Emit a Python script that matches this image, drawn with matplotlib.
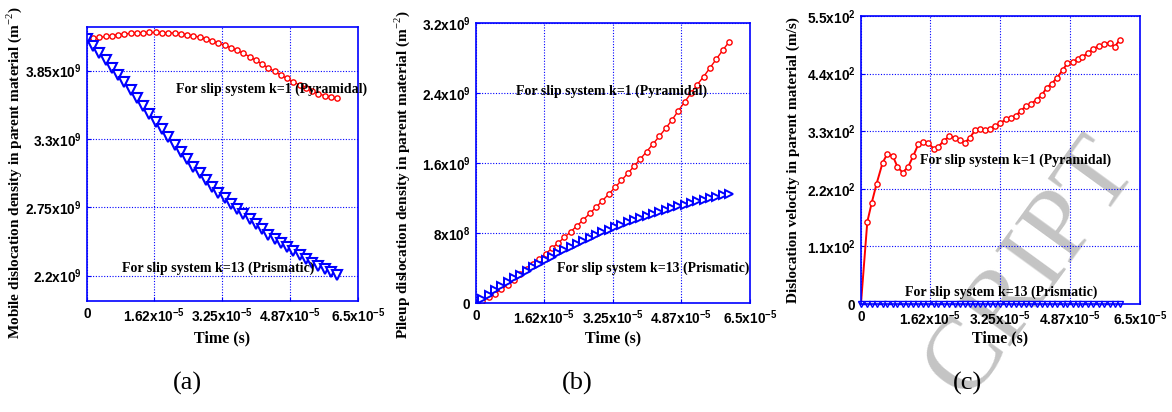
import matplotlib
matplotlib.use('Agg')
import matplotlib.pyplot as plt

plt.rcParams['font.family'] = 'Liberation Serif'
plt.rcParams['mathtext.fontset'] = 'custom'
plt.rcParams['mathtext.rm'] = 'Liberation Serif'
plt.rcParams['mathtext.bf'] = 'Liberation Sans:bold'

# time samples (s) used by panels (a) and (b)
time_ab = [0.00, 0.15, 0.30, 0.45, 0.60, 0.75, 0.90, 1.05, 1.20, 1.35, 1.50,
           1.65, 1.80, 1.95, 2.10, 2.25, 2.40, 2.55, 2.70, 2.85, 3.00, 3.15,
           3.30, 3.45, 3.60, 3.75, 3.90, 4.05, 4.20, 4.35, 4.50, 4.65, 4.80,
           4.95, 5.10, 5.25, 5.40, 5.55, 5.70, 5.85, 6.00]
time_ab = [t * 1e-5 for t in time_ab]

# (a) mobile dislocation density, 1e9 m^-2
mobile_pyr = [4.100, 4.108, 4.116, 4.124, 4.131, 4.138, 4.144, 4.149, 4.152, 4.155, 4.156,
              4.156, 4.155, 4.153, 4.151, 4.146, 4.138, 4.129, 4.119, 4.105, 4.090, 4.072,
              4.055, 4.034, 4.012, 3.988, 3.962, 3.932, 3.902, 3.872, 3.843, 3.813, 3.786,
              3.760, 3.733, 3.707, 3.684, 3.664, 3.648, 3.636, 3.628]
mobile_prism = [4.100, 4.044, 3.988, 3.931, 3.873, 3.814, 3.754, 3.693, 3.631, 3.568, 3.504,
                3.440, 3.377, 3.315, 3.254, 3.194, 3.135, 3.078, 3.022, 2.968, 2.915, 2.864,
                2.822, 2.780, 2.738, 2.696, 2.654, 2.613, 2.572, 2.531, 2.496, 2.463, 2.431,
                2.399, 2.367, 2.336, 2.305, 2.278, 2.252, 2.228, 2.205]

# (b) pileup dislocation density, 1e9 m^-2
pileup_pyr = [0.000, 0.030, 0.070, 0.110, 0.160, 0.210, 0.270, 0.330, 0.390, 0.449, 0.507,
              0.566, 0.627, 0.690, 0.754, 0.820, 0.887, 0.956, 1.027, 1.099, 1.173, 1.248,
              1.325, 1.404, 1.484, 1.566, 1.650, 1.735, 1.821, 1.909, 1.999, 2.095, 2.200,
              2.300, 2.400, 2.500, 2.590, 2.690, 2.790, 2.890, 2.985]
pileup_prism = [0.000, 0.050, 0.099, 0.147, 0.194, 0.240, 0.285, 0.329, 0.372, 0.414, 0.455,
                0.495, 0.534, 0.572, 0.609, 0.645, 0.680, 0.714, 0.747, 0.779, 0.810, 0.840,
                0.869, 0.897, 0.924, 0.950, 0.975, 0.999, 1.022, 1.044, 1.066, 1.087, 1.108,
                1.128, 1.147, 1.166, 1.184, 1.202, 1.219, 1.236, 1.252]

# (c) dislocation velocity, m/s
time_c = [0.00, 0.148, 0.25, 0.365, 0.505, 0.61, 0.74, 0.85, 0.97, 1.10, 1.22, 1.34, 1.45,
          1.57, 1.69, 1.80, 1.93, 2.06, 2.19, 2.31, 2.42, 2.54, 2.66, 2.77, 2.89, 3.00,
          3.12, 3.24, 3.38, 3.49, 3.61, 3.73, 3.84, 3.96, 4.09, 4.21, 4.33, 4.44, 4.56,
          4.70, 4.81, 4.93, 5.05, 5.16, 5.30, 5.41, 5.54, 5.66, 5.79, 5.91, 6.03]
time_c = [t * 1e-5 for t in time_c]
velocity_pyr = [0, 157, 193, 230, 270, 286, 283, 262, 251, 262, 283, 306, 310,
                307, 297, 300, 312, 320, 318, 313, 308, 318, 332, 335, 332, 335,
                340, 345, 353, 355, 360, 369, 378, 382, 390, 399, 413, 421, 431,
                447, 460, 463, 467, 472, 480, 487, 493, 496, 499, 491, 505]
velocity_prism = [0.0] * len(time_c)

xticks = [0, 1.62e-5, 3.25e-5, 4.87e-5, 6.5e-5]
xticklabels = ['0', r'$\mathbf{1.62x10^{-5}}$', r'$\mathbf{3.25x10^{-5}}$',
               r'$\mathbf{4.87x10^{-5}}$', r'$\mathbf{6.5x10^{-5}}$']

fig = plt.figure(figsize=(11.72, 4.12), dpi=100)
ax_a = fig.add_axes([0.0742, 0.2694, 0.2312, 0.665])
ax_b = fig.add_axes([0.4061, 0.2638, 0.2338, 0.6796])
ax_c = fig.add_axes([0.7346, 0.2621, 0.2381, 0.699])


def style(ax, yticks, ylabels, ylim, ylabel, ylab_x, ylab_y, xlab_y):
    ax.set_xlim(0, 6.5e-5)
    ax.set_ylim(*ylim)
    ax.set_xticks(xticks)
    ax.set_xticklabels(xticklabels)
    ax.set_yticks(yticks)
    ax.set_yticklabels(ylabels)
    for lab in ax.get_xticklabels() + ax.get_yticklabels():
        lab.set_fontfamily('Liberation Sans')
        lab.set_fontweight('bold')
        lab.set_fontsize(9.8)
    ax.tick_params(direction='in', length=3, color='blue', pad=4)
    ax.grid(True, color='blue', linestyle=(0, (1, 1.5)), linewidth=0.8)
    for s in ax.spines.values():
        s.set_color('blue')
        s.set_linewidth(1.2)
    ax.set_ylabel(ylabel, fontsize=11, fontweight='bold', va='center')
    ax.yaxis.set_label_coords(ylab_x, ylab_y)
    ax.set_xlabel('Time (s)', fontsize=11.5, fontweight='bold', va='center')
    ax.xaxis.set_label_coords(0.5, xlab_y)
    ax.patch.set_alpha(0)


ann = dict(fontsize=10, fontweight='bold', va='center')

# (a)
ax_a.plot(time_ab, [v * 1e9 for v in mobile_pyr], color='red', lw=1, marker='o', ms=3.8,
          mfc='white', mec='red', mew=1)
ax_a.plot(time_ab, [v * 1e9 for v in mobile_prism], color='blue', lw=1.2, marker='v', ms=7,
          mfc='white', mec='blue', mew=1.5)
style(ax_a, [2.2e9, 2.75e9, 3.3e9, 3.85e9],
      [r'$\mathbf{2.2x10^{9}}$', r'$\mathbf{2.75x10^{9}}$', r'$\mathbf{3.3x10^{9}}$', r'$\mathbf{3.85x10^{9}}$'],
      (1.996e9, 4.2e9), r'Mobile dislocation density in parent material (m$^{-2}$)', -0.269, 0.47, -0.135)
ax_a.text(2.13e-5, 3.703e9, 'For slip system k=1 (Pyramidal)', **ann)
ax_a.text(0.84e-5, 2.262e9, 'For slip system k=13 (Prismatic)', **ann)

# (b)
ax_b.plot(time_ab, [v * 1e9 for v in pileup_pyr], color='red', lw=1, marker='o', ms=3.8,
          mfc='white', mec='red', mew=1)
ax_b.plot(time_ab, [v * 1e9 for v in pileup_prism], color='blue', lw=1.2, marker='>', ms=6,
          mfc='white', mec='blue', mew=1.4)
style(ax_b, [0, 8e8, 1.6e9, 2.4e9, 3.2e9],
      ['0', r'$\mathbf{8x10^{8}}$', r'$\mathbf{1.6x10^{9}}$', r'$\mathbf{2.4x10^{9}}$', r'$\mathbf{3.2x10^{9}}$'],
      (0, 3.2e9), r'Pileup dislocation density in parent material (m$^{-2}$)', -0.27, 0.46, -0.125)
ax_b.text(0.95e-5, 2.426e9, 'For slip system k=1 (Pyramidal)', **ann)
ax_b.text(1.92e-5, 0.403e9, 'For slip system k=13 (Prismatic)', **ann)

# (c)
ax_c.plot(time_c, velocity_pyr, color='red', lw=1.4, marker='o', ms=3.8,
          mfc='white', mec='red', mew=1)
ax_c.plot(time_c, velocity_prism, color='blue', lw=1, marker='v', ms=4.5,
          mfc='white', mec='blue', mew=1, clip_on=False)
style(ax_c, [0, 110, 220, 330, 440, 550],
      ['0', r'$\mathbf{1.1x10^{2}}$', r'$\mathbf{2.2x10^{2}}$', r'$\mathbf{3.3x10^{2}}$',
       r'$\mathbf{4.4x10^{2}}$', r'$\mathbf{5.5x10^{2}}$'],
      (0, 550), 'Dislocation velocity in parent material (m/s)', -0.244, 0.5, -0.118)
ax_c.text(1.375e-5, 275, 'For slip system k=1 (Pyramidal)', **ann)
ax_c.text(1.025e-5, 22.9, 'For slip system k=13 (Prismatic)', **ann)

# panel letters
for x, s in [(187, '(a)'), (577, '(b)'), (968, '(c)')]:
    fig.text(x / 1172, 1 - 383 / 412, s, fontsize=19, ha='center', va='center')

# manuscript watermark
fig.text(1032 / 1172, 1 - 268 / 412, 'CRIPT', fontsize=74, color='#c4c4c4',
         rotation=54, ha='center', va='center', zorder=-1)

fig.savefig('out.png', dpi=100, facecolor='white')
